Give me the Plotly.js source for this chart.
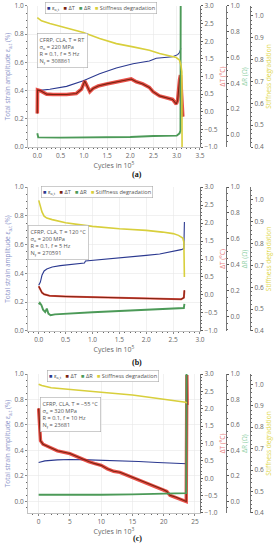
<!DOCTYPE html>
<html><head><meta charset="utf-8">
<script src="https://cdn.plot.ly/plotly-3.0.1.min.js"></script>
<style>html,body{margin:0;padding:0;background:#fff}#chart{width:276px;height:550px}</style>
</head><body><div id="chart"></div>
<script>
// ---------- Panel (a): cycles in 10^5 ----------
const A_X_STRAIN = [0, 0.27, 0.63, 0.99, 1.34, 1.7, 2.06, 2.41, 2.56, 2.91, 3.02, 3.06, 3.09];
const A_STRAIN   = [0.40, 0.41, 0.43, 0.47, 0.52, 0.56, 0.59, 0.61, 0.63, 0.64, 0.655, 0.67, 0.70];
const A_X_DT = [0, 0.005, 0.06, 0.2, 0.34, 0.49, 0.63, 0.84, 0.95, 1.02, 1.07, 1.13, 1.2, 1.31, 1.49, 1.7, 1.91, 2.02, 2.13, 2.27, 2.41, 2.49, 2.63, 2.77, 2.91, 2.99, 3.02, 3.06, 3.08, 3.11, 3.13];
const A_DT   = [-0.05, 0.62, 0.60, 0.50, 0.49, 0.48, 0.49, 0.52, 0.64, 0.87, 0.73, 0.57, 0.66, 0.73, 0.79, 0.84, 0.90, 0.93, 0.85, 0.79, 0.69, 0.57, 0.45, 0.40, 0.35, 0.22, 0.33, 0.90, 1.04, 0.33, -0.14];
const A_X_DR = [0, 0.02, 0.5, 1.0, 1.5, 2.0, 2.5, 2.8, 3.0, 3.06, 3.08, 3.085];
const A_DR   = [0.013, -0.018, -0.02, -0.02, -0.018, -0.015, -0.008, -0.006, -0.005, 0.013, 0.034, 1.05];
const A_X_ST = [0, 0.09, 0.27, 0.63, 0.99, 1.34, 1.7, 2.06, 2.41, 2.63, 2.84, 2.99, 3.06, 3.09, 3.11, 3.115];
const A_ST   = [0.992, 0.977, 0.965, 0.946, 0.924, 0.896, 0.873, 0.858, 0.843, 0.828, 0.816, 0.809, 0.797, 0.774, 0.744, 0.38];

// ---------- Panel (b): cycles in 10^5 ----------
const B_X_STRAIN = [0, 0.03, 0.06, 0.1, 0.15, 0.25, 0.4, 0.6, 0.85, 0.87, 1.0, 1.25, 1.5, 1.75, 2.0, 2.25, 2.5, 2.65, 2.7, 2.71];
const B_STRAIN   = [0.317, 0.34, 0.387, 0.417, 0.43, 0.444, 0.454, 0.463, 0.472, 0.486, 0.49, 0.50, 0.509, 0.516, 0.525, 0.535, 0.551, 0.565, 0.572, 0.757];
const B_X_DT = [0, 0.03, 0.06, 0.1, 0.2, 0.5, 1.0, 1.5, 2.0, 2.5, 2.65, 2.7, 2.71];
const B_DT   = [0.24, 0.13, 0.065, 0.02, -0.02, -0.04, -0.056, -0.074, -0.09, -0.10, -0.12, -0.074, 0.13];
const B_X_DR = [0, 0.02, 0.05, 0.08, 0.12, 0.15, 0.18, 0.22, 0.3, 0.5, 0.75, 1.0, 1.5, 2.0, 2.5, 2.7, 2.71];
const B_DR   = [0.097, 0.108, 0.09, 0.056, 0.038, 0.064, 0.026, 0.013, 0.02, 0.026, 0.03, 0.036, 0.046, 0.056, 0.067, 0.069, 0.10];
const B_X_ST = [0, 0.03, 0.06, 0.1, 0.15, 0.25, 0.5, 0.75, 1.0, 1.5, 2.0, 2.3, 2.5, 2.6, 2.68, 2.7, 2.71];
const B_ST   = [0.997, 0.974, 0.944, 0.925, 0.916, 0.909, 0.895, 0.886, 0.878, 0.867, 0.86, 0.852, 0.845, 0.837, 0.825, 0.807, 0.647];

// ---------- Panel (c): cycles in 10^3 ----------
const C_X_STRAIN = [0, 0.5, 1, 3, 5, 8, 10, 13, 16, 19, 21, 23.5, 23.7];
const C_STRAIN   = [0.305, 0.313, 0.318, 0.326, 0.329, 0.326, 0.324, 0.318, 0.313, 0.305, 0.30, 0.295, 0.295];
const C_X_DT = [0, 0.1, 0.3, 0.7, 1.5, 3, 5, 6, 7, 8, 9, 10, 11, 12, 13, 14, 15, 16, 17, 18, 19, 20, 20.5, 21, 22, 23, 23.6, 23.7, 23.75];
const C_DT   = [2.01, 1.54, 1.08, 0.98, 0.91, 0.79, 0.71, 0.63, 0.56, 0.48, 0.42, 0.37, 0.27, 0.20, 0.17, 0.10, 0.02, -0.04, -0.11, -0.19, -0.26, -0.33, -0.38, -0.49, -0.55, -0.62, -0.67, 2.97, 2.11];
const C_X_DR = [0, 5, 10, 15, 20, 23.5, 23.6, 23.65];
const C_DR   = [0.052, 0.05, 0.052, 0.055, 0.06, 0.063, 0.065, 1.05];
const C_X_ST = [0, 0.5, 2, 5, 10, 15, 20, 23.5, 23.7];
const C_ST   = [1.0, 0.994, 0.984, 0.975, 0.963, 0.95, 0.932, 0.916, 0.913];

// ---------- Text ----------
const LEFT_TITLE = 'Total strain amplitude ε<sub>a,t</sub> (%)';
const DT_TITLE = 'ΔT (°C)';
const DR_TITLE = 'ΔR (Ω)';
const ST_TITLE = 'Stiffness degradation';
const X_TITLES = ['Cycles in 10<sup>5</sup>', 'Cycles in 10<sup>5</sup>', 'Cycles in 10<sup>3</sup>'];
const PANEL_LABELS = ['(a)', '(b)', '(c)'];
const INFO = [
  'CFRP, CLA, T = RT<br>σ<sub>a</sub> = 220 MPa<br>R = 0.1, f = 5 Hz<br>N<sub>f</sub> = 308861',
  'CFRP, CLA, T = 120 °C<br>σ<sub>a</sub> = 200 MPa<br>R = 0.1, f = 5 Hz<br>N<sub>f</sub> = 270591',
  'CFRP, CLA, T = −55 °C<br>σ<sub>a</sub> = 320 MPa<br>R = 0.1, f = 10 Hz<br>N<sub>f</sub> = 23681'
];

const C_BLUE = '#2b3990', C_DTD = '#7a2410', C_DTR = '#e3261d', C_GREEN = '#4c9a58', C_YEL = '#d8cf3c';

const panels = [
  {xs:[A_X_STRAIN,A_X_DT,A_X_DR,A_X_ST], ys:[A_STRAIN,A_DT,A_DR,A_ST], xr:[-0.2,3.5], xd:0.5, xf:'.1f', yl:[0,1], dr:[-0.093,1.0], sr:[0.4,1.045], dom:[0.7327,0.9891], noise:3.6},
  {xs:[B_X_STRAIN,B_X_DT,B_X_DR,B_X_ST], ys:[B_STRAIN,B_DT,B_DR,B_ST], xr:[-0.2,3.0], xd:0.5, xf:'.1f', yl:[0,1], dr:[-0.108,1.0], sr:[0.4,1.058], dom:[0.3982,0.66], noise:2},
  {xs:[C_X_STRAIN,C_X_DT,C_X_DR,C_X_ST], ys:[C_STRAIN,C_DT,C_DR,C_ST], xr:[-1.7,25.8], xd:5, xf:'d', yl:[-0.091,1.0], dr:[-0.091,1.0], sr:[0.4,1.048], dom:[0.0673,0.32], noise:3.4}
];

const XDOM = [0, 0.6935];
const FONT = 'Open Sans, Noto Sans, sans-serif';
const traces = [];
const layout = {
  width:276, height:550, margin:{l:28,r:0,t:0,b:0}, showlegend:false,
  paper_bgcolor:'#fff', plot_bgcolor:'#fff',
  font:{family:FONT, size:6.5, color:'#555'}, annotations:[]
};
const legendY = [1-8/550, 1-192/550, 1-376/550];
const legendX = [(45-28)/248, (41-28)/248, (47-28)/248];
const infoX = [(37-28)/248, 0.0, (40-28)/248];
const infoY = [1-33/550, 1-225/550, 1-397/550];
const labY = [1-175/550, 1-362/550, 1-538/550];

panels.forEach((p, i) => {
  const xn = i===0 ? 'x' : 'x'+(i+1);
  const xk = i===0 ? 'xaxis' : 'xaxis'+(i+1);
  const base = 4*i+1;
  const yn = k => (base+k)===1 ? 'y' : 'y'+(base+k);
  const yk = k => (base+k)===1 ? 'yaxis' : 'yaxis'+(base+k);
  const minor = {ticks:'outside', ticklen:1.5, tickcolor:'#666'};
  layout[xk] = {domain:XDOM, anchor:yn(0), range:p.xr, dtick:p.xd, tickformat:p.xf,
    showgrid:true, gridcolor:'#e8e8e8', gridwidth:0.6, zeroline:false, showline:true, linecolor:'#999', linewidth:0.6,
    ticks:'outside', ticklen:2.5, tickcolor:'#888', minor:minor, automargin:false,
    tickfont:{size:6.5, color:'#666'},
    title:{text:X_TITLES[i], font:{size:7, color:'#666'}, standoff:3}};
  layout[yk(0)] = {domain:p.dom, anchor:xn, range:p.yl, dtick:0.2, tick0:0, tickformat:'.1f',
    showgrid:true, gridcolor:'#e8e8e8', gridwidth:0.6, zeroline:false, showline:true, linecolor:'#999', linewidth:0.6,
    ticks:'outside', ticklen:2.5, tickcolor:'#888', minor:minor, automargin:false,
    tickfont:{size:6.5, color:'#666'},
    title:{text:LEFT_TITLE, font:{size:6.5, color:'#8b93c9'}, standoff:2}};
  const common = {overlaying:yn(0), side:'right', showgrid:false, zeroline:false, showline:true,
    linecolor:'#555', linewidth:0.8, ticks:'outside', ticklen:2.5, tickcolor:'#555', automargin:false,
    tickfont:{size:6.5, color:'#666'}, minor:minor};
  layout[yk(1)] = Object.assign({}, common, {anchor:xn, range:[-1,3], dtick:0.5, tick0:0, tickformat:'.1f',
    title:{text:DT_TITLE, font:{size:6.5, color:'#e98080'}, standoff:3}});
  layout[yk(2)] = Object.assign({}, common, {anchor:'free', position:0.798, range:p.dr, dtick:0.2, tick0:0, tickformat:'.1f',
    title:{text:DR_TITLE, font:{size:6.5, color:'#8fcfa6'}, standoff:3}});
  layout[yk(3)] = Object.assign({}, common, {anchor:'free', position:0.895, range:p.sr, dtick:0.1, tick0:0, tickformat:'.1f',
    title:{text:ST_TITLE, font:{size:6.5, color:'#e0d74a'}, standoff:3}});

  // data traces
  traces.push({x:p.xs[3], y:p.ys[3], xaxis:xn, yaxis:yn(3), mode:'lines', line:{color:C_YEL, width:1.6}});
  traces.push({x:p.xs[2], y:p.ys[2], xaxis:xn, yaxis:yn(2), mode:'lines', line:{color:C_GREEN, width:1.9}});
  traces.push({x:p.xs[1], y:p.ys[1], xaxis:xn, yaxis:yn(1), mode:'lines', line:{color:C_DTR, width:p.noise}, opacity:0.8});
  traces.push({x:p.xs[1], y:p.ys[1], xaxis:xn, yaxis:yn(1), mode:'lines', line:{color:C_DTD, width:1.1}});
  traces.push({x:p.xs[0], y:p.ys[0], xaxis:xn, yaxis:yn(0), mode:'lines', line:{color:C_BLUE, width:1.1}});

  // legend (text-based)
  const sq = c => '<span style="color:'+c+'">■</span>';
  layout.annotations.push({xref:'paper', yref:'paper', x:legendX[i], y:legendY[i], xanchor:'left', yanchor:'middle',
    showarrow:false, bgcolor:'#fff', bordercolor:'#aaa', borderwidth:0.6, borderpad:1.5,
    font:{family:FONT, size:5.6, color:'#555'},
    text: sq(C_BLUE)+' ε<sub>a,t</sub>\u00a0\u00a0\u00a0'+sq(C_DTD)+' ΔT\u00a0\u00a0\u00a0'+sq(C_GREEN)+' ΔR\u00a0\u00a0\u00a0'+sq(C_YEL)+' Stiffness degradation'});
  // info box
  layout.annotations.push({xref:'paper', yref:'paper', x:infoX[i], y:infoY[i], xanchor:'left', yanchor:'top',
    showarrow:false, align:'left', bgcolor:'#fff', bordercolor:'#aaa', borderwidth:0.6, borderpad:2,
    font:{family:FONT, size:5.6, color:'#555'}, text:INFO[i]});
  // panel label
  layout.annotations.push({xref:'paper', yref:'paper', x:(137-28)/248, y:labY[i], xanchor:'center', yanchor:'middle',
    showarrow:false, font:{family:'Liberation Serif, DejaVu Serif, serif', size:8, color:'#111'},
    text:'<b>'+PANEL_LABELS[i]+'</b>'});
});

Plotly.newPlot('chart', traces, layout, {staticPlot:true, displayModeBar:false});
</script></body></html>
